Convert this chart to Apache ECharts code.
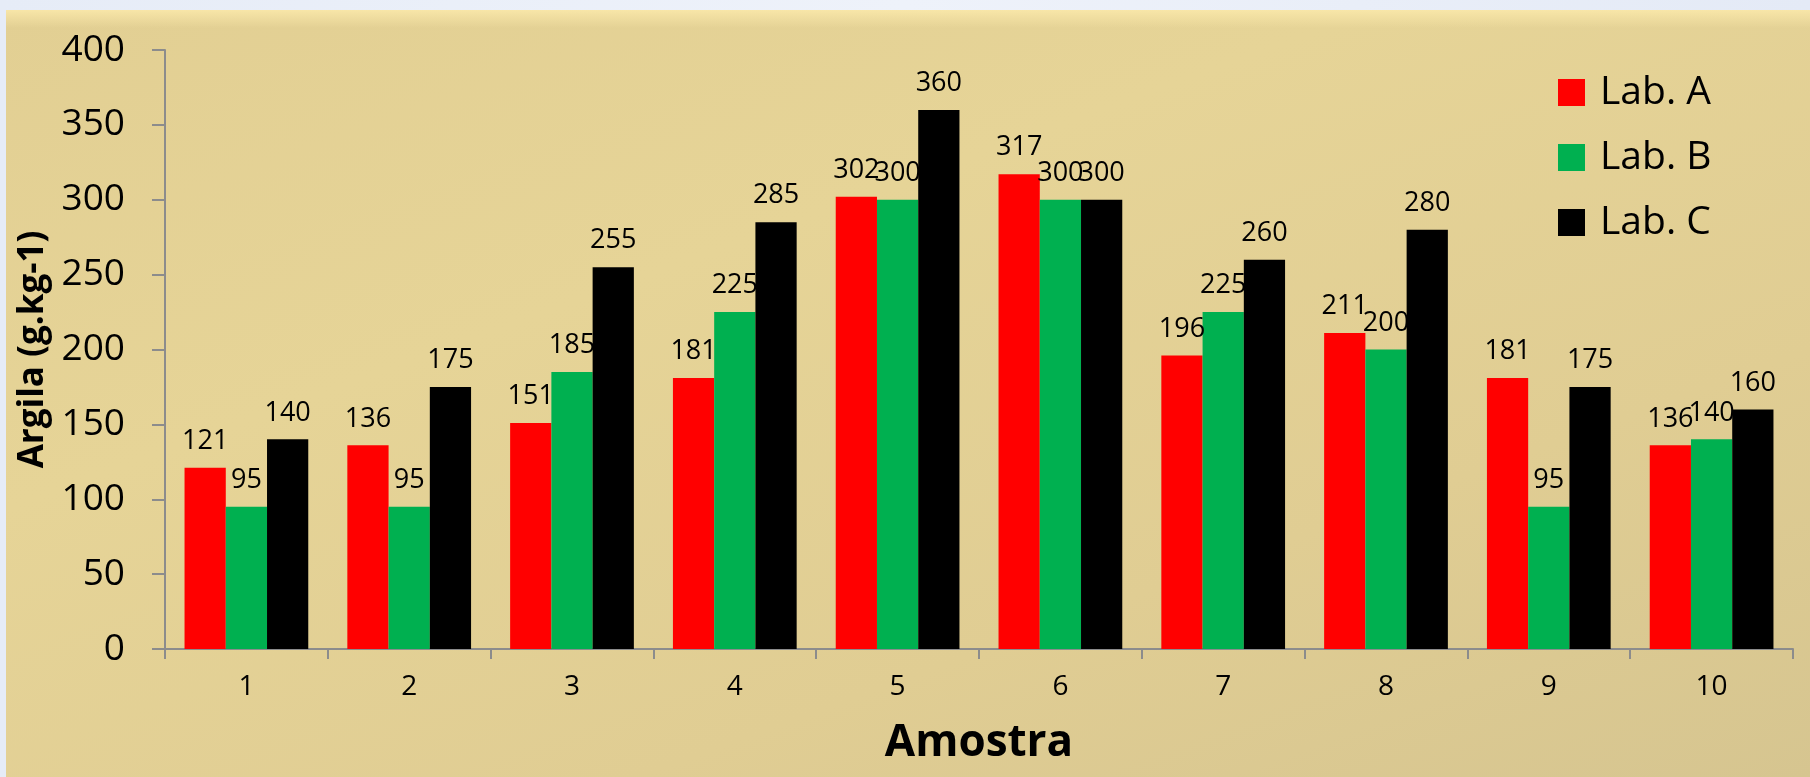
<!DOCTYPE html>
<html>
<head>
<meta charset="utf-8">
<script src="https://cdn.jsdelivr.net/npm/echarts@6/dist/echarts.min.js"></script>
<style>
  html, body { margin: 0; padding: 0; width: 1810px; height: 777px; overflow: hidden; }
  body { background: linear-gradient(90deg, #e6ecf7, #eef2fa 50%, #e4eaf6); }
  #chart {
    position: absolute; left: 6px; top: 10px; width: 1804px; height: 767px;
    background:
      linear-gradient(180deg, rgba(250, 232, 170, 0.9) 0px, rgba(250, 232, 170, 0) 18px),
      linear-gradient(160deg, #e2cf93 0%, #e6d497 35%, #e0cd93 70%, #d6c590 100%);
  }
</style>
</head>
<body>
<div id="chart"></div>
<script>
const samples = ['1', '2', '3', '4', '5', '6', '7', '8', '9', '10']
const labA = [121, 136, 151, 181, 302, 317, 196, 211, 181, 136]
const labB = [95, 95, 185, 225, 300, 300, 225, 200, 95, 140]
const labC = [140, 175, 255, 285, 360, 300, 260, 280, 175, 160]
const seriesNames = ['Lab. A', 'Lab. B', 'Lab. C']
const seriesColors = ['#ff0000', '#00b050', '#000000']

const fontFamily = '"Open Sans", "Noto Sans", sans-serif'
const chart = echarts.init(document.getElementById('chart'))

const makeSeries = (name, data, color) => ({
  name,
  type: 'bar',
  data,
  barGap: '0%',
  barCategoryGap: '24%',
  itemStyle: { color },
  label: {
    show: true,
    position: 'top',
    distance: 13,
    color: '#000',
    fontSize: 27,
    fontFamily,
  },
})

chart.setOption({
  animation: false,
  textStyle: { fontFamily },
  grid: { left: 159, right: 17, top: 40, bottom: 128, containLabel: false },
  legend: {
    orient: 'vertical',
    left: 1547,
    top: 58,
    itemWidth: 27,
    itemHeight: 27,
    itemGap: 26,
    icon: 'rect',
    textStyle: { fontSize: 39, color: '#000', fontFamily, padding: [0, 0, 0, 10] },
    data: seriesNames,
  },
  xAxis: {
    type: 'category',
    data: samples,
    name: 'Amostra',
    nameLocation: 'middle',
    nameGap: 72,
    nameTextStyle: { fontSize: 44, fontWeight: 'bold', color: '#000', fontFamily },
    axisLine: { lineStyle: { color: '#8c8c8c', width: 2 } },
    axisTick: { show: true, length: 10, lineStyle: { color: '#8c8c8c', width: 2 } },
    axisLabel: { fontSize: 28, color: '#000', margin: 24, fontFamily },
  },
  yAxis: {
    type: 'value',
    min: 0,
    max: 400,
    interval: 50,
    name: 'Argila (g.kg-1)',
    nameLocation: 'middle',
    nameGap: 107,
    nameTextStyle: { fontSize: 35, fontWeight: 'bold', color: '#000', fontFamily },
    axisLine: { show: true, lineStyle: { color: '#8c8c8c', width: 2 } },
    axisTick: { show: true, length: 13, lineStyle: { color: '#8c8c8c', width: 2 } },
    axisLabel: { fontSize: 37, color: '#000', margin: 40, fontFamily },
    splitLine: { show: false },
  },
  series: [
    makeSeries(seriesNames[0], labA, seriesColors[0]),
    makeSeries(seriesNames[1], labB, seriesColors[1]),
    makeSeries(seriesNames[2], labC, seriesColors[2]),
  ],
})
</script>
</body>
</html>
